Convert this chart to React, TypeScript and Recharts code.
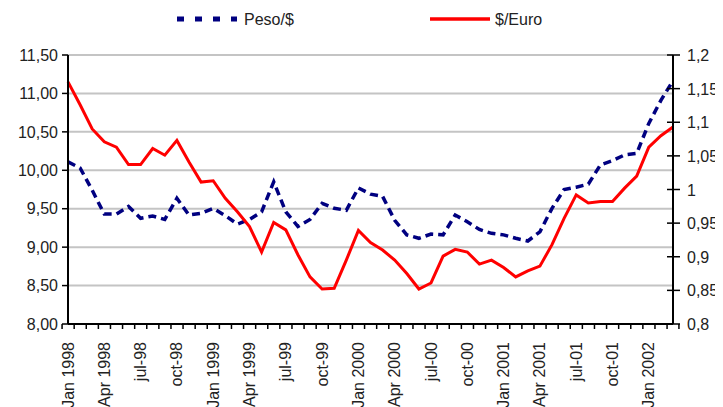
import React from "react";
import { ComposedChart, Line, XAxis, YAxis, CartesianGrid } from "recharts";

const months = [
  "Jan 1998", "feb-98", "mar-98", "Apr 1998", "may-98", "jun-98", "jul-98", "aug-98", "sep-98", "oct-98", "nov-98", "dec-98",
  "Jan 1999", "feb-99", "mar-99", "Apr 1999", "may-99", "jun-99", "jul-99", "aug-99", "sep-99", "oct-99", "nov-99", "dec-99",
  "Jan 2000", "feb-00", "mar-00", "Apr 2000", "may-00", "jun-00", "jul-00", "aug-00", "sep-00", "oct-00", "nov-00", "dec-00",
  "Jan 2001", "feb-01", "mar-01", "Apr 2001", "may-01", "jun-01", "jul-01", "aug-01", "sep-01", "oct-01", "nov-01", "dec-01",
  "Jan 2002", "feb-02", "mar-02",
];

const shownLabels = [
  "Jan 1998", "Apr 1998", "jul-98", "oct-98", "Jan 1999", "Apr 1999", "jul-99", "oct-99",
  "Jan 2000", "Apr 2000", "jul-00", "oct-00", "Jan 2001", "Apr 2001", "jul-01", "oct-01", "Jan 2002",
];

const pesoPerDollar = [
  10.11, 10.03, 9.74, 9.43, 9.43, 9.53, 9.375, 9.405, 9.36, 9.635, 9.418, 9.44,
  9.505, 9.41, 9.3, 9.36, 9.46, 9.85, 9.46, 9.27, 9.36, 9.57, 9.505, 9.48,
  9.77, 9.69, 9.66, 9.35, 9.16, 9.115, 9.17, 9.16, 9.418, 9.33, 9.23, 9.18,
  9.16, 9.115, 9.08, 9.2, 9.505, 9.75, 9.78, 9.82, 10.07, 10.125, 10.2, 10.22,
  10.61, 10.91, 11.165,
];

const dollarPerEuro = [
  1.16, 1.126, 1.09, 1.071, 1.063, 1.037, 1.037, 1.061, 1.051, 1.073, 1.041, 1.011,
  1.013, 0.987, 0.967, 0.945, 0.907, 0.951, 0.94, 0.903, 0.87, 0.852, 0.853, 0.895,
  0.939, 0.921, 0.91, 0.895, 0.875, 0.852, 0.861, 0.901, 0.911, 0.907, 0.889, 0.895,
  0.884, 0.87, 0.879, 0.886, 0.918, 0.957, 0.992, 0.98, 0.982, 0.982, 1.002, 1.02,
  1.063, 1.08, 1.093,
];

const leftTicks = [8, 8.5, 9, 9.5, 10, 10.5, 11, 11.5];
const rightTicks = [0.8, 0.85, 0.9, 0.95, 1, 1.05, 1.1, 1.15, 1.2];

const data = months.map((m, i) => ({ month: m, peso: pesoPerDollar[i], euro: dollarPerEuro[i] }));

const W = 707;
const H = 399;
const PLOT_L = 60;
const PLOT_R = 665;
const PLOT_T = 47;
const PLOT_B = 316;
const FONT = '"Liberation Sans", Arial, sans-serif';
const TEXT = "#222";
const NAVY = "#000080";
const RED = "#ff0000";

const step = (PLOT_R - PLOT_L) / months.length;

function XTick(props: any) {
  const { x, index, payload } = props;
  const left = x - step / 2;
  const label = payload.value as string;
  return (
    <g>
      <line x1={left} y1={PLOT_B} x2={left} y2={PLOT_B + 5} stroke="#000" strokeWidth={1.5} />
      {index === months.length - 1 && (
        <line x1={x + step / 2} y1={PLOT_B} x2={x + step / 2} y2={PLOT_B + 5} stroke="#000" strokeWidth={1.5} />
      )}
      {shownLabels.includes(label) && (
        <text
          x={x + 5.5}
          y={PLOT_B + 18}
          transform={`rotate(-90, ${x + 5.5}, ${PLOT_B + 18})`}
          textAnchor="end"
          fontFamily={FONT}
          fontSize={16}
          fill={TEXT}
        >
          {label}
        </text>
      )}
    </g>
  );
}

function RightTick(props: any) {
  const { y, payload } = props;
  return (
    <g>
      <line x1={PLOT_R - 6} y1={y} x2={PLOT_R + 7} y2={y} stroke="#000" strokeWidth={1.5} />
      <text x={PLOT_R + 14} y={y} dy={6} fontFamily={FONT} fontSize={16} fill={TEXT}>
        {String(payload.value).replace(".", ",")}
      </text>
    </g>
  );
}

function LegendBox() {
  return (
    <svg width={W} height={30} style={{ position: "absolute", left: 0, top: 0, display: "block" }}>
      <line x1={169} y1={11} x2={229} y2={11} stroke={NAVY} strokeWidth={5} strokeDasharray="7 11" />
      <text x={236} y={17} fontFamily={FONT} fontSize={16} fill={TEXT}>Peso/$</text>
      <line x1={422} y1={11} x2={482} y2={11} stroke={RED} strokeWidth={3.5} />
      <text x={487} y={17} fontFamily={FONT} fontSize={16} fill={TEXT}>$/Euro</text>
    </svg>
  );
}

export default function App() {
  return (
    <div style={{ position: "relative", width: W, height: H }}>
      <style>{`.recharts-surface{overflow:visible}`}</style>
      <ComposedChart width={W} height={H} data={data} margin={{ top: PLOT_T, right: 0, bottom: 0, left: 0 }}>
        <CartesianGrid yAxisId="left" vertical={false} stroke="#c4c4c4" strokeWidth={2} />
        <XAxis
          dataKey="month"
          interval={0}
          height={H - PLOT_B}
          axisLine={{ stroke: "#000", strokeWidth: 2 }}
          tickLine={false}
          tick={<XTick />}
        />
        <YAxis
          yAxisId="left"
          domain={[8, 11.5]}
          ticks={leftTicks}
          width={PLOT_L}
          tickSize={6}
          tickMargin={4}
          axisLine={{ stroke: "#000", strokeWidth: 2 }}
          tickLine={{ stroke: "#000", strokeWidth: 1.5 }}
          tickFormatter={(v: number) => v.toFixed(2).replace(".", ",")}
          tick={{ fontFamily: FONT, fontSize: 16, fill: TEXT }}
        />
        <YAxis
          yAxisId="right"
          orientation="right"
          domain={[0.8, 1.2]}
          ticks={rightTicks}
          width={W - PLOT_R}
          axisLine={{ stroke: "#000", strokeWidth: 2 }}
          tickLine={false}
          tick={<RightTick />}
        />
        <Line
          yAxisId="left"
          dataKey="peso"
          name="Peso/$"
          stroke={NAVY}
          strokeWidth={3.5}
          strokeDasharray="8 5"
          dot={false}
          isAnimationActive={false}
        />
        <Line
          yAxisId="right"
          dataKey="euro"
          name="$/Euro"
          stroke={RED}
          strokeWidth={3}
          dot={false}
          isAnimationActive={false}
        />
      </ComposedChart>
      <LegendBox />
    </div>
  );
}
